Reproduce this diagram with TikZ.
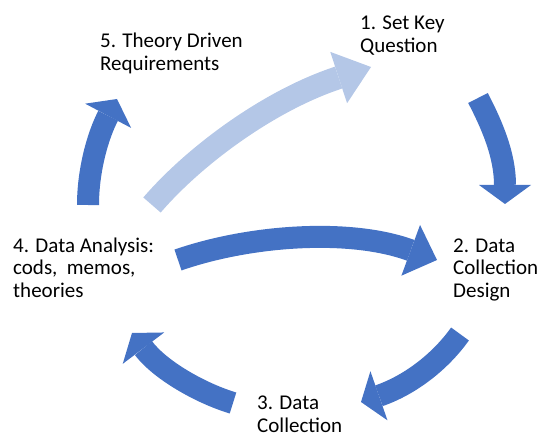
\documentclass[tikz,border=0pt]{standalone}
\usepackage{fontspec}
\setmainfont{Carlito}
\usetikzlibrary{arrows.meta, positioning}
\definecolor{cycleblue}{RGB}{68, 114, 196}
\definecolor{cyclelight}{RGB}{180, 199, 231}

\tikzset{
    steptext/.style={anchor=base west, align=left, inner sep=0pt, font=\fontsize{21}{23}\selectfont},
    bigarrow/.style={draw=cycleblue, line width=22pt, -{Triangle[width=52pt, length=19pt, line width=0pt]}},
    lightarrow/.style={draw=cyclelight, line width=23pt, -{Triangle[width=54pt, length=34pt, line width=0pt]}}
}

\begin{document}
\begin{tikzpicture}[x=1pt, y=-1pt]
    \useasboundingbox (0,0) rectangle (542,436);
    % Ciclo de investigacion (base = ultima linea)
    \node[steptext] (step1) at (360,53) {1. Set Key\\Question};
    \node[steptext] (step2) at (453,298) {2. Data\\Collection\\Design};
    \node[steptext] (step3) at (257,432) {3. Data\\Collection};
    \node[steptext] (step4) at (13,298) {4. Data Analysis:\\cods,\ \ memos,\\theories};
    \node[steptext] (step5) at (100,71) {5. Theory Driven\\Requirements};

    \coordinate (from1) at (478,98);   \coordinate (to2) at (505,204);
    \coordinate (from2) at (460,334);  \coordinate (to3) at (361,402);
    \coordinate (from3) at (233,403);  \coordinate (to4) at (132,333);
    \coordinate (from4) at (178,260);  \coordinate (to2b) at (437,260);
    \coordinate (from5) at (88,205);   \coordinate (to5) at (117,99);
    \coordinate (back4) at (152,205);  \coordinate (to1) at (371,67);

    \draw[bigarrow] (from1) .. controls (492,125) and (505,155) .. (to2);
    \draw[bigarrow] (from2) .. controls (440,362) and (410,385) .. (to3);
    \draw[bigarrow] (from3) .. controls (200,393) and (160,370) .. (to4);
    \draw[bigarrow, -{Triangle[width=54pt, length=28pt, line width=0pt]}] (from4) .. controls (250,235) and (350,228) .. (to2b);
    \draw[bigarrow] (from5) .. controls (88,170) and (98,135) .. (to5);
    \draw[lightarrow] (back4) .. controls (195,155) and (270,100) .. (to1);
\end{tikzpicture}
\end{document}
